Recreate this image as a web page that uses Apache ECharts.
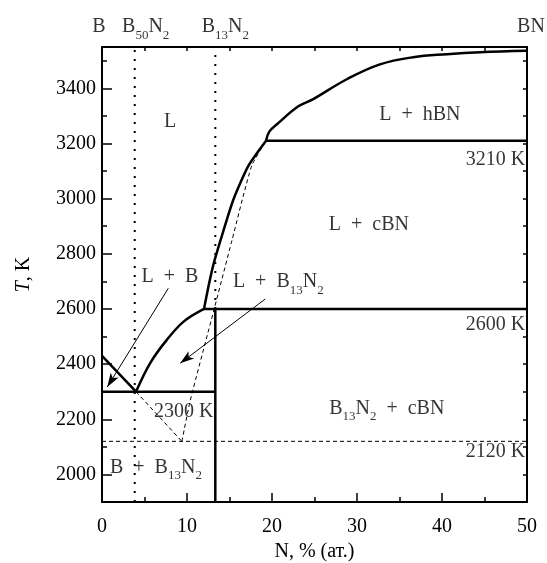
<!DOCTYPE html>
<html>
<head>
<meta charset="utf-8">
<script src="https://cdn.jsdelivr.net/npm/echarts@6/dist/echarts.min.js"></script>
<style>html,body{margin:0;padding:0;background:#fff}#c{width:547px;height:563px}</style>
</head>
<body>
<div id="c"></div>
<script>
// ---- data (N, at.% ; T, K) ----
const xTicks = [0, 10, 20, 30, 40, 50];
const yTickLabels = [2000, 2200, 2400, 2600, 2800, 3000, 3200, 3400];
const liquidusLeft = [[0, 2430], [4, 2300]];
const liquidusB13 = [[4, 2300], [5.65, 2403], [7.6, 2487], [9.6, 2554], [12, 2600]];
const liquidusCBN = [[12, 2600], [12.5, 2678], [13.1, 2760], [14.0, 2855], [15.45, 2996], [17.2, 3118], [19.3, 3210]];
const liquidusHBN = [[19.3, 3210], [19.7, 3244], [20.55, 3269], [23.1, 3335], [24.8, 3360], [28.8, 3433], [32.7, 3487], [36.6, 3513], [40.6, 3524], [44.5, 3531], [50, 3536]];
const eutectic2300 = [[0, 2300], [13.33, 2300]];
const peritectic2600 = [[12, 2600], [50, 2600]];
const transition3210 = [[19.3, 3210], [50, 3210]];
const b13n2Solid = [[13.33, 1900], [13.33, 2600]];
const metastable2120 = [[0, 2120], [50, 2120]];
const metaLeft = [[4, 2300], [9.4, 2120]];
const metaRight = [[9.4, 2120], [10.4, 2270], [13.2, 2600], [15.3, 2850], [17.6, 3118], [19.2, 3205]];
const dotB50N2 = [[3.85, 1900], [3.85, 3550]];
const dotB13N2 = [[13.33, 2600], [13.33, 3550]];
const arrowLB = [[7.8, 2675], [0.62, 2317]];
const arrowLB13 = [[19.2, 2636], [9.2, 2403]];
const regionTexts = ['L', 'L\u2002+\u2002hBN', '3210 K', 'L\u2002+\u2002cBN', 'L\u2002+\u2002B', 'L\u2002+\u2002B{s|13}N{s|2}', '2600 K', '2300 K', 'B{s|13}N{s|2}\u2002+\u2002cBN', '2120 K', 'B\u2002+\u2002B{s|13}N{s|2}'];
const regionAnchors = [[8.0, 3280], [37.4, 3306], [49.8, 3142], [31.4, 2905], [8.0, 2717], [15.4, 2699], [49.8, 2542], [9.6, 2227], [33.5, 2239], [49.8, 2081], [0.94, 2026]];
const regionAlign = ['center', 'center', 'right', 'center', 'center', 'left', 'right', 'center', 'center', 'right', 'left'];
const topTexts = ['B', 'B{s|50}N{s|2}', 'B{s|13}N{s|2}', 'BN'];
const topAnchors = [[0, 3550], [3.85, 3550], [13.33, 3550], [50, 3550]];
const topOffsets = [[-3, -20], [11, -20], [10, -20], [4, -20]];

// ---- chart ----
const FONT = 'Liberation Serif';
const chart = echarts.init(document.getElementById('c'), null, {renderer: 'canvas'});
const black = '#000';
const rich = {
  s: {fontSize: 13, fontFamily: FONT, color: black, verticalAlign: 'middle', padding: [17, 0, 0, 0]}
};
function lineSeries(data, style, smooth) {
  return {
    type: 'line', data: data, showSymbol: false, symbol: 'none', smooth: smooth || false,
    silent: true, animation: false, clip: false,
    lineStyle: Object.assign({color: black}, style)
  };
}
const thick = {width: 2.5, type: 'solid'};
const dashed = {width: 1, type: [4, 3]};
const dotted = {width: 2, type: [2, 7]};

const series = [
  lineSeries(liquidusLeft, thick),
  lineSeries(liquidusB13, thick, 0.35),
  lineSeries(liquidusCBN, thick, 0.2),
  lineSeries(liquidusHBN, thick, 0.4),
  lineSeries(eutectic2300, thick),
  lineSeries(peritectic2600, thick),
  lineSeries(transition3210, thick),
  lineSeries(b13n2Solid, thick),
  lineSeries(metastable2120, dashed),
  lineSeries(metaLeft, dashed),
  lineSeries(metaRight, dashed, 0.2),
  lineSeries(dotB50N2, dotted),
  lineSeries(dotB13N2, dotted),
  {
    type: 'line', data: [], silent: true, animation: false,
    markLine: {
      silent: true, animation: false,
      symbol: ['none', 'arrow'], symbolSize: [7, 14],
      lineStyle: {color: black, width: 1, type: 'solid'},
      label: {show: false},
      data: [
        [{coord: arrowLB[0]}, {coord: arrowLB[1]}],
        [{coord: arrowLB13[0]}, {coord: arrowLB13[1]}]
      ]
    }
  },
  {
    type: 'scatter', symbolSize: 0, silent: true, animation: false, clip: false,
    data: regionAnchors.map((p, i) => ({
      value: p,
      label: {align: regionAlign[i]}
    })),
    label: {
      show: true, position: 'inside', color: black, fontSize: 20, fontFamily: FONT, lineHeight: 22,
      verticalAlign: 'middle',
      formatter: (p) => regionTexts[p.dataIndex], rich: rich
    }
  },
  {
    type: 'scatter', symbolSize: 0, silent: true, animation: false, clip: false,
    data: topAnchors.map((p, i) => ({
      value: p,
      label: {offset: topOffsets[i]}
    })),
    label: {
      show: true, position: 'inside', color: black, fontSize: 20, fontFamily: FONT, lineHeight: 22,
      align: 'center', verticalAlign: 'middle',
      formatter: (p) => topTexts[p.dataIndex], rich: rich
    }
  }
];

const axisLineStyle = {show: true, onZero: false, lineStyle: {color: black, width: 2}};
const option = {
  backgroundColor: '#fff',
  animation: false,
  grid: {left: 102, right: 20, top: 47, bottom: 61, containLabel: false, outerBoundsMode: 'none'},
  xAxis: [
    {
      type: 'value', position: 'bottom', min: 0, max: 50, interval: 10,
      axisLine: axisLineStyle,
      axisTick: {show: true, inside: true, length: 9, lineStyle: {color: black, width: 1.5}},
      minorTick: {show: true, splitNumber: 2, length: 5, lineStyle: {color: black, width: 1.5}},
      axisLabel: {color: black, fontSize: 20, fontFamily: FONT, margin: 15,
        customValues: xTicks, formatter: (v) => String(v)},
      splitLine: {show: false}, minorSplitLine: {show: false},
      name: 'N, % (ат.)', nameLocation: 'middle', nameGap: 40,
      nameTextStyle: {color: black, fontSize: 20, fontFamily: FONT}
    },
    {
      type: 'value', position: 'top', min: 0, max: 50, interval: 5,
      axisLine: axisLineStyle,
      axisTick: {show: true, inside: true, length: 4, lineStyle: {color: black, width: 1.5}},
      axisLabel: {show: false}, splitLine: {show: false}
    }
  ],
  yAxis: [
    {
      type: 'value', position: 'left', min: 1900, max: 3550, interval: 100,
      axisLine: axisLineStyle,
      axisTick: {show: true, inside: true, length: 10, customValues: yTickLabels, lineStyle: {color: black, width: 1.5}},
      axisLabel: {color: black, fontSize: 20, fontFamily: FONT, margin: 6,
        customValues: yTickLabels, formatter: (v) => String(v)},
      splitLine: {show: false},
      name: '{i|T}, K', nameLocation: 'middle', nameGap: 68, nameRotate: 90,
      nameTextStyle: {color: black, fontSize: 20, fontFamily: FONT,
        rich: {i: {fontStyle: 'italic', fontSize: 20, fontFamily: FONT, color: black}}}
    },
    {
      type: 'value', position: 'left', min: 1900, max: 3550, interval: 100,
      axisLine: {show: false, onZero: false},
      axisTick: {show: true, inside: true, length: 5, lineStyle: {color: black, width: 1.5}},
      axisLabel: {show: false}, splitLine: {show: false}
    },
    {
      type: 'value', position: 'right', min: 1900, max: 3550, interval: 100,
      axisLine: axisLineStyle,
      axisTick: {show: true, inside: true, length: 4, lineStyle: {color: black, width: 1.5}},
      axisLabel: {show: false}, splitLine: {show: false}
    }
  ],
  series: series
};
chart.setOption(option);
</script>
</body>
</html>
